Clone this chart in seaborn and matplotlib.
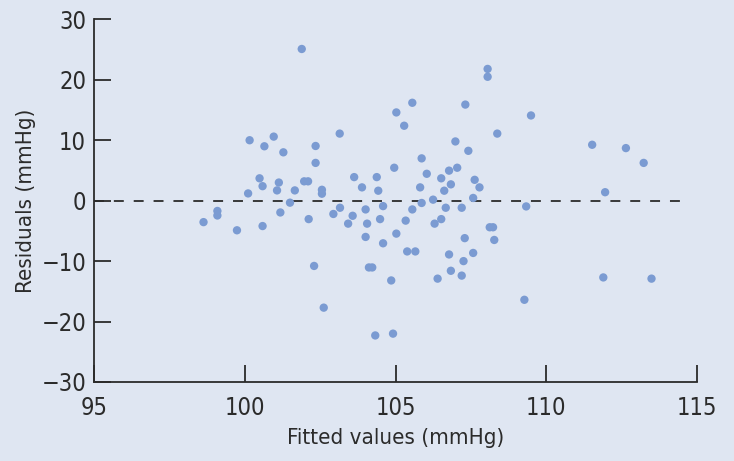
import pandas as pd
import matplotlib
matplotlib.use("Agg")
import matplotlib.pyplot as plt
import seaborn as sns
from matplotlib import font_manager

# Values
fitted = [101.88, 100.15, 100.95, 100.64, 101.27, 100.48, 100.58, 101.12, 101.06, 101.65,
          101.96, 102.09, 100.10, 101.49, 101.17, 99.08, 99.08, 98.62, 99.73, 100.58,
          102.11, 102.29, 108.05, 108.05, 105.55, 105.02, 105.28, 107.31, 108.37, 103.14,
          102.34, 102.34, 106.98, 107.41, 105.86, 104.95, 106.03, 106.77, 107.04, 103.62,
          104.37, 106.51, 107.62, 103.88, 104.42, 102.55, 102.55, 105.81, 106.83, 106.61,
          107.78, 106.24, 107.57, 103.15, 102.93, 103.57, 103.42, 104.00, 104.58, 104.05,
          104.48, 104.00, 104.58, 105.02, 105.55, 105.33, 105.86, 106.66, 107.19, 106.51,
          106.29, 105.38, 105.65, 107.29, 106.77, 107.57, 107.25, 106.83, 107.19, 106.39,
          108.12, 108.23, 108.27, 104.11, 104.22, 104.85, 102.61, 104.32, 104.91, 109.27,
          109.49, 111.52, 112.64, 113.23, 111.95, 109.33, 111.89, 113.49]
residuals = [25.1, 10.0, 10.6, 9.0, 8.0, 3.7, 2.4, 3.0, 1.7, 1.7,
             3.2, 3.2, 1.2, -0.33, -1.95, -1.7, -2.45, -3.55, -4.9, -4.2,
             -3.05, -10.8, 21.8, 20.5, 16.2, 14.6, 12.4, 15.9, 11.1, 11.1,
             9.05, 6.25, 9.8, 8.25, 7.0, 5.45, 4.45, 4.97, 5.45, 3.9,
             3.9, 3.7, 3.45, 2.2, 1.65, 1.8, 1.15, 2.2, 2.7, 1.65,
             2.2, 0.17, 0.45, -1.17, -2.2, -2.5, -3.8, -1.45, -0.9, -3.8,
             -3.05, -6.0, -7.05, -5.45, -1.45, -3.3, -0.38, -1.17, -1.17, -3.05,
             -3.8, -8.4, -8.4, -6.2, -8.9, -8.65, -10.0, -11.6, -12.4, -12.9,
             -4.4, -4.4, -6.5, -11.05, -11.05, -13.2, -17.7, -22.3, -22.0, -16.4,
             14.1, 9.25, 8.7, 6.25, 1.4, -0.95, -12.7, -12.9]
x_ticks = [95, 100, 105, 110, 115]
y_ticks = [-30, -20, -10, 0, 10, 20, 30]

df = pd.DataFrame({"Fitted values (mmHg)": fitted, "Residuals (mmHg)": residuals})

bg = "#dfe6f2"
ink = "#2b2b2b"

sns.set_theme(style="ticks")
# prefer a condensed face if one is installed
names = {f.name for f in font_manager.fontManager.ttflist}
narrow = [n for n in ["Liberation Sans Narrow", "DejaVu Sans Condensed"] if n in names]
plt.rcParams["font.family"] = narrow + ["Liberation Sans", "DejaVu Sans"]
cond = any(f.stretch in ("condensed", 300) or "Condensed" in f.fname
           for f in font_manager.fontManager.ttflist if f.name == "DejaVu Sans")
if not narrow and cond:
    plt.rcParams["font.family"] = ["DejaVu Sans"]
    plt.rcParams["font.stretch"] = "condensed"

fig = plt.figure(figsize=(7.34, 4.61), dpi=100, facecolor=bg)
ax = fig.add_axes([0.1287, 0.1714, 0.8209, 0.7866])
ax.set_facecolor(bg)

# zero reference line
ax.axhline(0, color=ink, lw=1.3, linestyle=(0, (5.5, 5.5)), xmax=0.985, zorder=1)

sns.scatterplot(data=df, x="Fitted values (mmHg)", y="Residuals (mmHg)", ax=ax,
                color="#7b9bd2", s=36, edgecolor="none", zorder=2)

ax.set_xlim(95, 115)
ax.set_ylim(-30, 30)
ax.set_xticks(x_ticks)
ax.set_yticks(y_ticks)
ax.set_yticklabels([str(v).replace("-", "\u2212") for v in y_ticks])

for side in ["top", "right"]:
    ax.spines[side].set_visible(False)
for side in ["left", "bottom"]:
    ax.spines[side].set_color(ink)
    ax.spines[side].set_linewidth(1.3)

ax.tick_params(axis="both", direction="in", length=12, width=1.3, color=ink,
               labelsize=17, labelcolor=ink)
ax.tick_params(axis="x", pad=10)
ax.tick_params(axis="y", pad=6)

ax.set_xlabel("Fitted values (mmHg)", fontsize=16, color=ink, labelpad=6)
ax.set_ylabel("Residuals (mmHg)", fontsize=16, color=ink, labelpad=4)

fig.savefig("out.png", dpi=100, facecolor=bg)
